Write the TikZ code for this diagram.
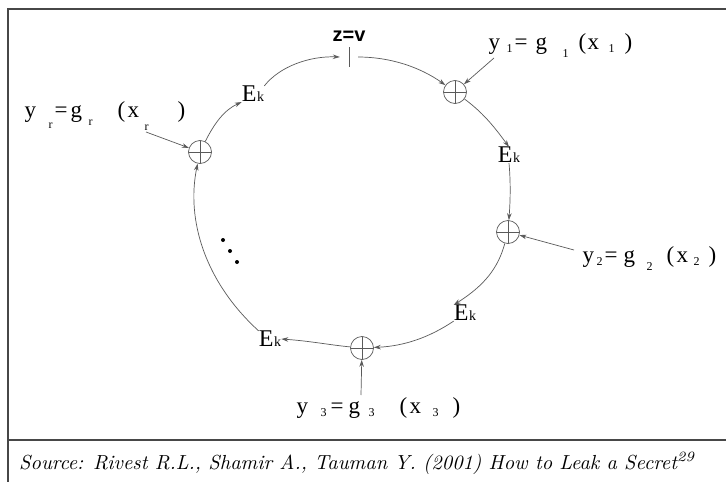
\documentclass[tikz,border=0pt]{standalone}
\usepackage{fontspec}
\setmainfont{Latin Modern Roman}
\newfontfamily\tms{Liberation Serif}
\newfontfamily\hlv{Liberation Sans}
\usetikzlibrary{arrows.meta}
\newcommand\smsub[1]{{\fontsize{12}{12}\selectfont #1}}
\newcommand\pc[3]{\rlap{\hspace{#1}\raisebox{#2}{#3}}}
\newcommand\ekk{E\hspace{0.5pt}{\fontsize{14}{14}\selectfont k}}
\definecolor{lg}{HTML}{5A5A5A}
\definecolor{fr}{HTML}{474747}
\tikzset{
  xo/.style={circle,draw=lg,line width=0.7pt,minimum size=23pt,inner sep=0pt,
    path picture={\draw[lg,line width=0.7pt] (path picture bounding box.north) -- (path picture bounding box.south)
      (path picture bounding box.west) -- (path picture bounding box.east);}},
  eknode/.style={font=\tms\fontsize{24}{24}\selectfont,inner sep=0pt},
  lbl/.style={font=\tms\fontsize{23}{23}\selectfont,inner sep=0pt,anchor=base west},
  arr/.style={lg,line width=0.7pt,-{Stealth[length=7pt,width=4.5pt]}},
  framel/.style={fr,line width=2pt}
}
\begin{document}
\begin{tikzpicture}[x=1pt,y=-1pt]
\useasboundingbox (0,0) rectangle (726,482);
\fill[white] (0,0) rectangle (726,482);
% frame
\draw[framel] (8,482) -- (8,9) -- (726,9);
\draw[framel] (8,440) -- (726,440);
% nodes
\node[xo] (x1) at (455,92) {};
\node[xo] (x2) at (508,232) {};
\node[xo] (x3) at (362,348) {};
\node[xo] (xr) at (200,152) {};
\node[eknode] (ekul) at (253,94) {\ekk};
\node[eknode] (ekr) at (509,155) {\ekk};
\node[eknode] (eklr) at (465,313) {\ekk};
\node[eknode] (ekll) at (270,339) {\ekk};
\node[font=\hlv\bfseries\fontsize{20}{20}\selectfont,inner sep=0pt] (zv) at (349,36) {z=v};
\node[inner sep=0pt,minimum width=18pt,minimum height=19pt] (tick) at (349,57) {};
\draw[lg,line width=0.8pt] (349,47) -- (349,67);
% labels
\node[lbl] (y1) at (488,49) {\pc{0pt}{0pt}{y}\pc{18pt}{-3pt}{\smsub{1}}\pc{26pt}{0pt}{=}\pc{47pt}{0pt}{g}\pc{74pt}{-8pt}{\smsub{1}}\pc{90pt}{0pt}{(}\pc{99pt}{0pt}{x}\pc{120pt}{-3pt}{\smsub{1}}\pc{136pt}{0pt}{)}\hspace{144pt}};
\node[lbl] (y2) at (582,262) {\pc{0pt}{0pt}{y}\pc{14pt}{-3pt}{\smsub{2}}\pc{22pt}{0pt}{=}\pc{41pt}{0pt}{g}\pc{64pt}{-8pt}{\smsub{2}}\pc{84pt}{0pt}{(}\pc{94pt}{0pt}{x}\pc{111pt}{-3pt}{\smsub{2}}\pc{126pt}{0pt}{)}\hspace{134pt}};
\node[lbl] (y3) at (296,413) {\pc{0pt}{0pt}{y}\pc{24pt}{-3pt}{\smsub{3}}\pc{34pt}{0pt}{=}\pc{52pt}{0pt}{g}\pc{72pt}{-3pt}{\smsub{3}}\pc{103pt}{0pt}{(}\pc{113pt}{0pt}{x}\pc{136pt}{-3pt}{\smsub{3}}\pc{156pt}{0pt}{)}\hspace{164pt}};
\node[lbl] (yr) at (24,117) {\pc{0pt}{0pt}{y}\pc{24pt}{-11pt}{\smsub{r}}\pc{30pt}{0pt}{=}\pc{46pt}{0pt}{g}\pc{64pt}{-8pt}{\smsub{r}}\pc{93pt}{0pt}{(}\pc{103pt}{0pt}{x}\pc{120pt}{-13pt}{\smsub{r}}\pc{153pt}{0pt}{)}\hspace{161pt}};
% dots
\fill (223,240) circle (2pt) (230,251) circle (2pt) (237,262) circle (2pt);
% free ends
\coordinate (s1) at (494,58);
\coordinate (s2) at (574,250);
\coordinate (s3) at (361,395);
\coordinate (sr) at (146,132);
% connectors
\draw[arr] (ekul.north east) .. controls (280,66) and (310,56) .. (tick.west);
\draw[arr] (tick.east) .. controls (390,57) and (420,67) .. (x1);
\draw[arr] (s1) -- (x1);
\draw[arr] (x1) .. controls (482,112) and (493,125) .. (ekr.north);
\draw[arr] (ekr.south) .. controls (511,185) and (510,205) .. (x2);
\draw[arr] (s2) -- (x2);
\draw[arr] (x2) .. controls (498,268) and (485,285) .. (eklr.north west);
\draw[arr] (eklr.south west) .. controls (430,337) and (405,346) .. (x3);
\draw[arr] (x3) .. controls (330,345) and (310,341) .. (ekll.east);
\draw[arr] (s3) -- (x3);
\draw[arr] (ekll.north west) .. controls (205,282) and (186,220) .. (xr);
\draw[arr] (xr) .. controls (214,124) and (224,110) .. (ekul.south west);
\draw[arr] (sr) -- (xr);
% caption
\node[anchor=base west,inner sep=0pt] (cap) at (19,469) {\resizebox{676pt}{!}{\itshape Source: Rivest R.L., Shamir A., Tauman Y. (2001) How to Leak a Secret\textsuperscript{29}}};
\end{tikzpicture}
\end{document}
